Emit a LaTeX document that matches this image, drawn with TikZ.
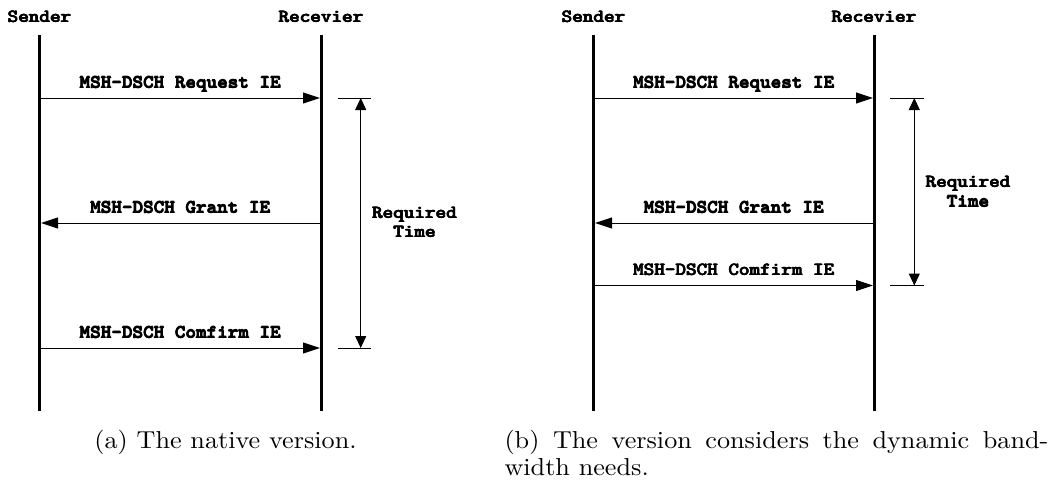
\documentclass[tikz,border=0pt]{standalone}
\usetikzlibrary{arrows.meta}
% typewriter labels drawn with a slight overstrike for a heavier stroke
\newcommand\heavy[1]{\leavevmode\rlap{\kern-0.4pt #1}\rlap{\kern0.4pt #1}\rlap{\raise0.3pt\hbox{#1}}#1}
\begin{document}
\begin{tikzpicture}[x=1pt,y=-1pt,
  lifeline/.style={line width=3pt},
  msg/.style={line width=1pt,-{Triangle[length=17pt,width=11pt]}},
  span/.style={line width=1pt,{Triangle[length=12pt,width=11pt]}-{Triangle[length=12pt,width=11pt]}},
  tickmark/.style={line width=1pt},
  ttb/.style={font=\ttfamily\fontseries{b}\fontsize{18.5}{19.3}\selectfont,inner sep=0pt,xscale=1.09},
  lbl/.style={ttb,anchor=base},
  twolines/.style={ttb,align=center},
  captext/.style={font=\fontsize{10}{11.1}\selectfont,xscale=2.62,yscale=2.45,inner sep=0pt}]
\useasboundingbox (0,0) rectangle (1054,483);

% ---------- (a) the native exchange ----------
\node[lbl] (sndA) at (39.5,22.5) {\heavy{Sender}};
\node[lbl] (rcvA) at (321,22.5) {\heavy{Recevier}};
\coordinate (sndAtop) at (39.5,35);  \coordinate (sndAbot) at (39.5,411);
\coordinate (rcvAtop) at (321,35);   \coordinate (rcvAbot) at (321,411);
\draw[lifeline] (sndAtop) -- (sndAbot);
\draw[lifeline] (rcvAtop) -- (rcvAbot);

\coordinate (aReqS) at (39.5,98);   \coordinate (aReqR) at (320,98);
\coordinate (aGntR) at (321,223);   \coordinate (aGntS) at (41,223);
\coordinate (aCfmS) at (39.5,348);  \coordinate (aCfmR) at (320,348);
\draw[msg] (aReqS) -- (aReqR);
\draw[msg] (aGntR) -- (aGntS);
\draw[msg] (aCfmS) -- (aCfmR);
\node[lbl] (aReqL) at (180.25,88) {\heavy{MSH-DSCH Request IE}};
\node[lbl] (aGntL) at (180.25,213) {\heavy{MSH-DSCH Grant IE}};
\node[lbl] (aCfmL) at (180.25,338) {\heavy{MSH-DSCH Comfirm IE}};

\coordinate (aT1a) at (337.5,98);  \coordinate (aT1b) at (371,98);
\coordinate (aT2a) at (337.5,348); \coordinate (aT2b) at (371,348);
\draw[tickmark] (aT1a) -- (aT1b);
\draw[tickmark] (aT2a) -- (aT2b);
\coordinate (aSpanTop) at (360.7,98); \coordinate (aSpanBot) at (360.7,348);
\draw[span] (aSpanTop) -- (aSpanBot);
\node[twolines] (aReqT) at (414.5,222.5) {\heavy{Required}\\\heavy{Time}};

\node[captext,anchor=base] (capA) at (225.5,448) {(a) The native version.};

% ---------- (b) the dynamic bandwidth exchange ----------
\node[lbl] (sndB) at (593.5,22.5) {\heavy{Sender}};
\node[lbl] (rcvB) at (874,22.5) {\heavy{Recevier}};
\coordinate (sndBtop) at (593.5,35); \coordinate (sndBbot) at (593.5,411);
\coordinate (rcvBtop) at (874,35);   \coordinate (rcvBbot) at (874,411);
\draw[lifeline] (sndBtop) -- (sndBbot);
\draw[lifeline] (rcvBtop) -- (rcvBbot);

\coordinate (bReqS) at (593.5,98);   \coordinate (bReqR) at (873,98);
\coordinate (bGntR) at (874,223);    \coordinate (bGntS) at (595,223);
\coordinate (bCfmS) at (593.5,285.5);\coordinate (bCfmR) at (873,285.5);
\draw[msg] (bReqS) -- (bReqR);
\draw[msg] (bGntR) -- (bGntS);
\draw[msg] (bCfmS) -- (bCfmR);
\node[lbl] (bReqL) at (733.75,88) {\heavy{MSH-DSCH Request IE}};
\node[lbl] (bGntL) at (733.75,213) {\heavy{MSH-DSCH Grant IE}};
\node[lbl] (bCfmL) at (733.75,275.5) {\heavy{MSH-DSCH Comfirm IE}};

\coordinate (bT1a) at (890,98);    \coordinate (bT1b) at (924,98);
\coordinate (bT2a) at (890,285.5); \coordinate (bT2b) at (924,285.5);
\draw[tickmark] (bT1a) -- (bT1b);
\draw[tickmark] (bT2a) -- (bT2b);
\coordinate (bSpanTop) at (914.3,98); \coordinate (bSpanBot) at (914.3,285.5);
\draw[span] (bSpanTop) -- (bSpanBot);
\node[twolines] (bReqT) at (968,191.8) {\heavy{Required}\\\heavy{Time}};

\node[captext,anchor=north west,text width=207.6pt,align=justify] (capB) at (504,429.5)
  {(b) The version considers the dynamic band-\linebreak width needs.};
\end{tikzpicture}
\end{document}
